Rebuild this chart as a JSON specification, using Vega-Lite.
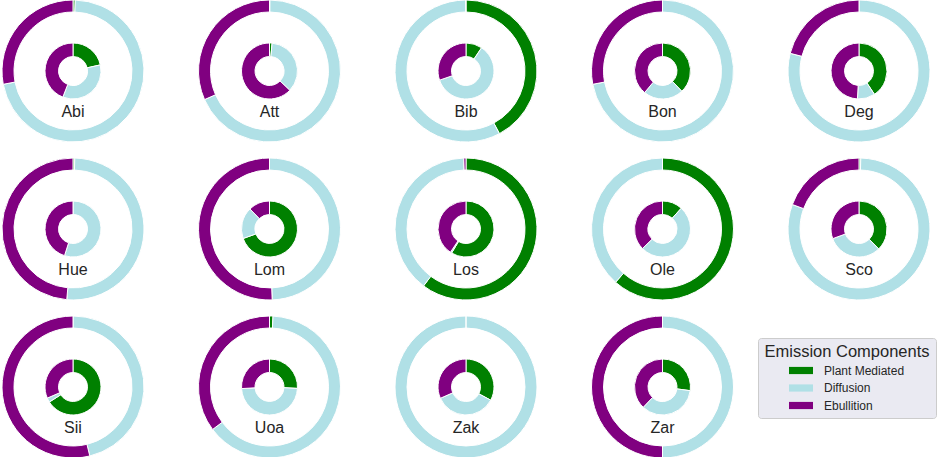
{
  "$schema": "https://vega.github.io/schema/vega-lite/v6.json",
  "padding": {"left": 0, "right": 0, "top": -3, "bottom": 0},
  "background": "white",
  "datasets": {
    "emis": [
      {"site": "Abi", "ring": "outer", "component": "Plant Mediated", "value": 0.5},
      {"site": "Abi", "ring": "outer", "component": "Diffusion", "value": 71.5},
      {"site": "Abi", "ring": "outer", "component": "Ebullition", "value": 28},
      {"site": "Abi", "ring": "inner", "component": "Plant Mediated", "value": 21.5},
      {"site": "Abi", "ring": "inner", "component": "Diffusion", "value": 34.4},
      {"site": "Abi", "ring": "inner", "component": "Ebullition", "value": 44.1},
      {"site": "Att", "ring": "outer", "component": "Plant Mediated", "value": 0.1},
      {"site": "Att", "ring": "outer", "component": "Diffusion", "value": 68.3},
      {"site": "Att", "ring": "outer", "component": "Ebullition", "value": 31.6},
      {"site": "Att", "ring": "inner", "component": "Plant Mediated", "value": 1.5},
      {"site": "Att", "ring": "inner", "component": "Diffusion", "value": 35.6},
      {"site": "Att", "ring": "inner", "component": "Ebullition", "value": 62.9},
      {"site": "Bib", "ring": "outer", "component": "Plant Mediated", "value": 42.2},
      {"site": "Bib", "ring": "outer", "component": "Diffusion", "value": 57.7},
      {"site": "Bib", "ring": "outer", "component": "Ebullition", "value": 0.1},
      {"site": "Bib", "ring": "inner", "component": "Plant Mediated", "value": 9.4},
      {"site": "Bib", "ring": "inner", "component": "Diffusion", "value": 60.3},
      {"site": "Bib", "ring": "inner", "component": "Ebullition", "value": 30.3},
      {"site": "Bon", "ring": "outer", "component": "Plant Mediated", "value": 0},
      {"site": "Bon", "ring": "outer", "component": "Diffusion", "value": 72},
      {"site": "Bon", "ring": "outer", "component": "Ebullition", "value": 28},
      {"site": "Bon", "ring": "inner", "component": "Plant Mediated", "value": 37.9},
      {"site": "Bon", "ring": "inner", "component": "Diffusion", "value": 23.1},
      {"site": "Bon", "ring": "inner", "component": "Ebullition", "value": 39},
      {"site": "Deg", "ring": "outer", "component": "Plant Mediated", "value": 0},
      {"site": "Deg", "ring": "outer", "component": "Diffusion", "value": 79},
      {"site": "Deg", "ring": "outer", "component": "Ebullition", "value": 21},
      {"site": "Deg", "ring": "inner", "component": "Plant Mediated", "value": 40.7},
      {"site": "Deg", "ring": "inner", "component": "Diffusion", "value": 10.2},
      {"site": "Deg", "ring": "inner", "component": "Ebullition", "value": 49.1},
      {"site": "Hue", "ring": "outer", "component": "Plant Mediated", "value": 0.4},
      {"site": "Hue", "ring": "outer", "component": "Diffusion", "value": 51},
      {"site": "Hue", "ring": "outer", "component": "Ebullition", "value": 48.6},
      {"site": "Hue", "ring": "inner", "component": "Plant Mediated", "value": 0},
      {"site": "Hue", "ring": "inner", "component": "Diffusion", "value": 54.9},
      {"site": "Hue", "ring": "inner", "component": "Ebullition", "value": 45.1},
      {"site": "Lom", "ring": "outer", "component": "Plant Mediated", "value": 0},
      {"site": "Lom", "ring": "outer", "component": "Diffusion", "value": 49.4},
      {"site": "Lom", "ring": "outer", "component": "Ebullition", "value": 50.6},
      {"site": "Lom", "ring": "inner", "component": "Plant Mediated", "value": 69.5},
      {"site": "Lom", "ring": "inner", "component": "Diffusion", "value": 18.2},
      {"site": "Lom", "ring": "inner", "component": "Ebullition", "value": 12.3},
      {"site": "Los", "ring": "outer", "component": "Plant Mediated", "value": 60.2},
      {"site": "Los", "ring": "outer", "component": "Diffusion", "value": 39.3},
      {"site": "Los", "ring": "outer", "component": "Ebullition", "value": 0.5},
      {"site": "Los", "ring": "inner", "component": "Plant Mediated", "value": 58.6},
      {"site": "Los", "ring": "inner", "component": "Diffusion", "value": 0.8},
      {"site": "Los", "ring": "inner", "component": "Ebullition", "value": 40.6},
      {"site": "Ole", "ring": "outer", "component": "Plant Mediated", "value": 61.5},
      {"site": "Ole", "ring": "outer", "component": "Diffusion", "value": 38.5},
      {"site": "Ole", "ring": "outer", "component": "Ebullition", "value": 0},
      {"site": "Ole", "ring": "inner", "component": "Plant Mediated", "value": 11.7},
      {"site": "Ole", "ring": "inner", "component": "Diffusion", "value": 51},
      {"site": "Ole", "ring": "inner", "component": "Ebullition", "value": 37.3},
      {"site": "Sco", "ring": "outer", "component": "Plant Mediated", "value": 0.4},
      {"site": "Sco", "ring": "outer", "component": "Diffusion", "value": 80.2},
      {"site": "Sco", "ring": "outer", "component": "Ebullition", "value": 19.4},
      {"site": "Sco", "ring": "inner", "component": "Plant Mediated", "value": 37.6},
      {"site": "Sco", "ring": "inner", "component": "Diffusion", "value": 31.8},
      {"site": "Sco", "ring": "inner", "component": "Ebullition", "value": 30.6},
      {"site": "Sii", "ring": "outer", "component": "Plant Mediated", "value": 0},
      {"site": "Sii", "ring": "outer", "component": "Diffusion", "value": 46.2},
      {"site": "Sii", "ring": "outer", "component": "Ebullition", "value": 53.8},
      {"site": "Sii", "ring": "inner", "component": "Plant Mediated", "value": 66},
      {"site": "Sii", "ring": "inner", "component": "Diffusion", "value": 2.5},
      {"site": "Sii", "ring": "inner", "component": "Ebullition", "value": 31.5},
      {"site": "Uoa", "ring": "outer", "component": "Plant Mediated", "value": 0.8},
      {"site": "Uoa", "ring": "outer", "component": "Diffusion", "value": 64},
      {"site": "Uoa", "ring": "outer", "component": "Ebullition", "value": 35.2},
      {"site": "Uoa", "ring": "inner", "component": "Plant Mediated", "value": 25.8},
      {"site": "Uoa", "ring": "inner", "component": "Diffusion", "value": 48.3},
      {"site": "Uoa", "ring": "inner", "component": "Ebullition", "value": 25.9},
      {"site": "Zak", "ring": "outer", "component": "Plant Mediated", "value": 0},
      {"site": "Zak", "ring": "outer", "component": "Diffusion", "value": 100},
      {"site": "Zak", "ring": "outer", "component": "Ebullition", "value": 0},
      {"site": "Zak", "ring": "inner", "component": "Plant Mediated", "value": 32.8},
      {"site": "Zak", "ring": "inner", "component": "Diffusion", "value": 35.6},
      {"site": "Zak", "ring": "inner", "component": "Ebullition", "value": 31.6},
      {"site": "Zar", "ring": "outer", "component": "Plant Mediated", "value": 0},
      {"site": "Zar", "ring": "outer", "component": "Diffusion", "value": 50},
      {"site": "Zar", "ring": "outer", "component": "Ebullition", "value": 50},
      {"site": "Zar", "ring": "inner", "component": "Plant Mediated", "value": 27.1},
      {"site": "Zar", "ring": "inner", "component": "Diffusion", "value": 35},
      {"site": "Zar", "ring": "inner", "component": "Ebullition", "value": 37.9}
    ]
  },
  "data": {"name": "emis"},
  "transform": [
    {"calculate": "indexof(['Plant Mediated','Diffusion','Ebullition'], datum.component)", "as": "k"}
  ],
  "facet": {
    "field": "site",
    "type": "nominal",
    "title": null,
    "header": {"title": null, "labelExpr": "''", "labelFontSize": 1, "labelColor": "transparent", "labelPadding": 0, "titlePadding": 0}
  },
  "columns": 5,
  "spacing": {"row": 11, "column": 50.5},
  "spec": {
    "width": 146,
    "height": 136,
    "layer": [
      {
        "transform": [{"filter": "datum.ring === 'outer'"}],
        "mark": {"type": "arc", "outerRadius": 71, "innerRadius": 59, "stroke": "white", "strokeWidth": 1},
        "encoding": {
          "theta": {"field": "value", "type": "quantitative", "stack": "normalize"},
          "order": {"field": "k", "type": "quantitative"},
          "color": {
            "field": "component",
            "type": "nominal",
            "scale": {"domain": ["Plant Mediated", "Diffusion", "Ebullition"], "range": ["#008000", "#b0e0e6", "#800080"]},
            "legend": {
              "orient": "none",
              "legendX": 758,
              "legendY": 335,
              "title": "Emission Components",
              "titleFont": "Liberation Sans",
              "titleFontSize": 16.5,
              "titleFontWeight": "normal",
              "titleColor": "#262626",
              "titleAnchor": "middle",
              "titleLimit": 400,
              "titlePadding": 4,
              "labelFont": "Liberation Sans",
              "labelFontSize": 12,
              "labelColor": "#262626",
              "symbolType": "M-2,-0.6L2,-0.6L2,0.6L-2,0.6Z",
              "symbolSize": 144,
              "symbolStrokeWidth": 0,
              "symbolOffset": 6,
              "labelOffset": 17,
              "rowPadding": 5.5,
              "padding": 6,
              "fillColor": "#eaeaf2",
              "strokeColor": "#cccccc",
              "cornerRadius": 3
            }
          }
        }
      },
      {
        "transform": [{"filter": "datum.ring === 'inner'"}],
        "mark": {"type": "arc", "outerRadius": 28, "innerRadius": 14.5, "stroke": "white", "strokeWidth": 1},
        "encoding": {
          "theta": {"field": "value", "type": "quantitative", "stack": "normalize"},
          "order": {"field": "k", "type": "quantitative"},
          "color": {"field": "component", "type": "nominal"}
        }
      },
      {
        "transform": [{"filter": "datum.ring === 'outer' && datum.component === 'Plant Mediated'"}],
        "mark": {"type": "text", "font": "Liberation Sans", "fontSize": 16, "color": "#262626", "baseline": "alphabetic", "align": "center", "dy": 46},
        "encoding": {"text": {"field": "site", "type": "nominal"}}
      }
    ]
  },
  "config": {
    "view": {"stroke": null}
  }
}
